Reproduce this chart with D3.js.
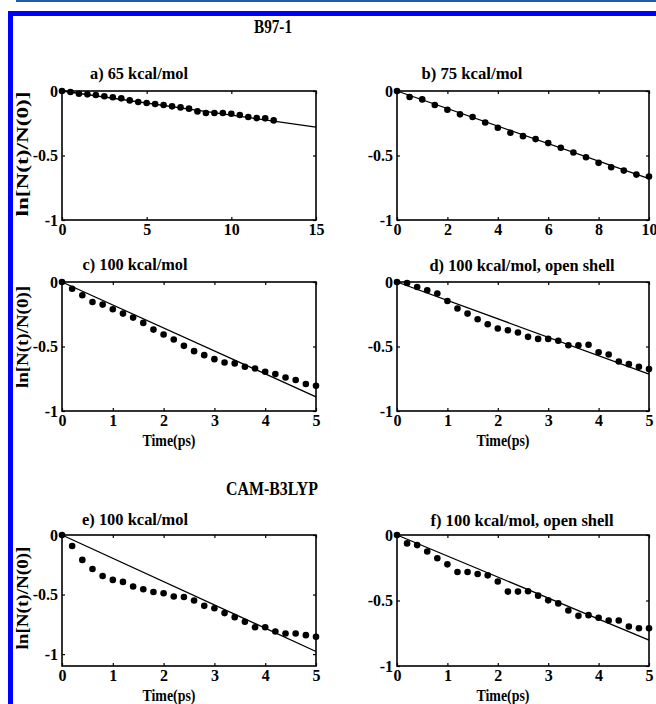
<!DOCTYPE html>
<html>
<head>
<meta charset="utf-8">
<script src="https://cdn.jsdelivr.net/npm/d3@7/dist/d3.min.js"></script>
<style>
body { margin: 0; background: #fff; }
text { font-family: "Liberation Serif", "Times New Roman", serif; font-weight: bold; fill: #000; }
</style>
</head>
<body>
<svg width="656" height="704"></svg>
<script>
// ---- data ----
var tA = [0,0.5,1,1.5,2,2.5,3,3.5,4,4.5,5,5.5,6,6.5,7,7.5,8,8.5,9,9.5,10,10.5,11,11.5,12,12.5];
var yA = [0,-0.008,-0.021,-0.026,-0.031,-0.041,-0.049,-0.057,-0.073,-0.085,-0.093,-0.101,-0.109,
          -0.119,-0.127,-0.137,-0.158,-0.171,-0.171,-0.171,-0.176,-0.186,-0.202,-0.210,-0.212,-0.228];
var fitA = [[0,0],[15,-0.28]];

var tB = [0,0.5,1,1.5,2,2.5,3,3.5,4,4.5,5,5.5,6,6.5,7,7.5,8,8.5,9,9.5,10];
var yB = [0,-0.047,-0.065,-0.109,-0.145,-0.181,-0.202,-0.244,-0.285,-0.324,-0.350,-0.373,-0.404,
          -0.440,-0.477,-0.513,-0.557,-0.591,-0.617,-0.648,-0.663];
var fitB = [[0,0],[10,-0.68]];

// panels c-f share the same time grid
var tC = [0,0.2,0.4,0.6,0.8,1,1.2,1.4,1.6,1.8,2,2.2,2.4,2.6,2.8,3,3.2,3.4,3.6,3.8,4,4.2,4.4,4.6,4.8,5];
var yC = [0,-0.052,-0.103,-0.155,-0.175,-0.211,-0.245,-0.276,-0.317,-0.369,-0.407,-0.446,-0.495,
          -0.536,-0.567,-0.598,-0.624,-0.631,-0.657,-0.670,-0.696,-0.714,-0.740,-0.760,-0.791,-0.804];
var fitC = [[0,0],[5,-0.89]];

var yD = [0,-0.008,-0.039,-0.064,-0.090,-0.147,-0.206,-0.245,-0.289,-0.327,-0.361,-0.374,-0.392,
          -0.425,-0.441,-0.441,-0.456,-0.490,-0.490,-0.487,-0.544,-0.562,-0.616,-0.637,-0.657,-0.675];
var fitD = [[0,0],[5,-0.714]];

var yE = [0,-0.092,-0.209,-0.285,-0.344,-0.377,-0.394,-0.433,-0.455,-0.478,-0.489,-0.517,-0.520,
          -0.550,-0.595,-0.615,-0.656,-0.690,-0.729,-0.774,-0.774,-0.810,-0.827,-0.827,-0.841,-0.855];
var fitE = [[0,0],[5,-0.978]];

var yF = [0,-0.064,-0.077,-0.126,-0.177,-0.224,-0.283,-0.283,-0.298,-0.308,-0.355,-0.432,-0.432,
          -0.429,-0.463,-0.499,-0.522,-0.576,-0.617,-0.612,-0.632,-0.653,-0.653,-0.699,-0.712,-0.712];
var fitF = [[0,0],[5,-0.802]];

var ticksA = [0,5,10,15];
var ticksB = [0,2,4,6,8,10];
var ticksT = [0,1,2,3,4,5];
var ticksY = [0,-0.5,-1];
var titles = ["a) 65 kcal/mol","b) 75 kcal/mol","c) 100 kcal/mol","d) 100 kcal/mol, open shell",
              "e) 100 kcal/mol","f) 100 kcal/mol, open shell"];

// ---- layout ----
var svg = d3.select("svg");
var cols = [[62,316],[397,649]];
var rows = [[91,220],[282,411],[535,666]];
var serif = '"Liberation Serif", "Times New Roman", serif';

// page decoration
svg.append("rect").attr("x",16).attr("y",0).attr("width",640).attr("height",2).attr("fill","#1f5fa6");
svg.append("rect").attr("x",8).attr("y",11).attr("width",648).attr("height",5).attr("fill","#0000ff");
svg.append("rect").attr("x",8).attr("y",11).attr("width",5).attr("height",693).attr("fill","#0000ff");

svg.append("text").attr("x",273).attr("y",33).attr("text-anchor","middle")
    .style("font-size","18px").attr("textLength",38).attr("lengthAdjust","spacingAndGlyphs").text("B97-1");
svg.append("text").attr("x",272).attr("y",495).attr("text-anchor","middle")
    .style("font-size","18px").attr("textLength",92).attr("lengthAdjust","spacingAndGlyphs").text("CAM-B3LYP");

var panels = [
  {t:tA, y:yA, fit:fitA, xmax:15, xt:ticksA, ymin:-1,   c:0, r:0, tx:139, ty:79,  tw:98},
  {t:tB, y:yB, fit:fitB, xmax:10, xt:ticksB, ymin:-1,   c:1, r:0, tx:472, ty:79,  tw:101},
  {t:tC, y:yC, fit:fitC, xmax:5,  xt:ticksT, ymin:-1,   c:0, r:1, tx:135, ty:270, tw:105, xl:true},
  {t:tC, y:yD, fit:fitD, xmax:5,  xt:ticksT, ymin:-1,   c:1, r:1, tx:522, ty:271, tw:185, xl:true},
  {t:tC, y:yE, fit:fitE, xmax:5,  xt:ticksT, ymin:-1.1, c:0, r:2, tx:135, ty:525, tw:106, xl:true},
  {t:tC, y:yF, fit:fitF, xmax:5,  xt:ticksT, ymin:-1,   c:1, r:2, tx:522, ty:526, tw:183, xl:true}
];
var ylab = [[154,125],[337,102],[598,103]];

panels.forEach(function(p, i) {
    var x0 = cols[p.c][0], x1 = cols[p.c][1], y0 = rows[p.r][0], y1 = rows[p.r][1];
    var x = d3.scaleLinear().domain([0, p.xmax]).range([x0, x1]);
    var y = d3.scaleLinear().domain([p.ymin, 0]).range([y1, y0]);
    var g = svg.append("g");

    g.append("text").attr("x",p.tx).attr("y",p.ty).attr("text-anchor","middle")
        .style("font-size","16px").attr("textLength",p.tw).attr("lengthAdjust","spacingAndGlyphs")
        .text(titles[i]);

    var fmt = function(d) { return String(d); };
    var ax = [
      g.append("g").attr("transform","translate(0,"+y1+")")
        .call(d3.axisBottom(x).tickValues(p.xt).tickSize(-3).tickPadding(4).tickFormat(fmt)),
      g.append("g").attr("transform","translate(0,"+y0+")")
        .call(d3.axisTop(x).tickValues(p.xt).tickSize(-3).tickFormat("")),
      g.append("g").attr("transform","translate("+x0+",0)")
        .call(d3.axisLeft(y).tickValues(ticksY).tickSize(-3).tickPadding(4).tickFormat(fmt)),
      g.append("g").attr("transform","translate("+x1+",0)")
        .call(d3.axisRight(y).tickValues(ticksY).tickSize(-3).tickFormat(""))
    ];
    ax.forEach(function(a) {
        a.select(".domain").remove();
        a.attr("font-family", serif).attr("font-size", 16).attr("font-weight", "bold");
        a.selectAll("line").attr("stroke","#000").attr("stroke-width",1.2);
        a.selectAll("text").style("font-family", serif).style("font-size","16px")
            .style("font-weight","bold").attr("fill","#000");
    });

    g.append("rect").attr("x",x0).attr("y",y0).attr("width",x1-x0).attr("height",y1-y0)
        .attr("fill","none").attr("stroke","#000").attr("stroke-width",1.6);

    g.append("path").datum(p.fit)
        .attr("d", d3.line().x(d => x(d[0])).y(d => y(d[1])))
        .attr("fill","none").attr("stroke","#000").attr("stroke-width",1.3);

    g.selectAll("circle").data(p.t.map((t, k) => [t, p.y[k]])).enter().append("circle")
        .attr("cx", d => x(d[0])).attr("cy", d => y(d[1])).attr("r",3.3).attr("fill","#000");

    if (p.c == 0) {
        var yl = ylab[p.r];
        g.append("text").attr("transform","translate(28,"+yl[0]+") rotate(-90)")
            .attr("text-anchor","middle").style("font-size","16px")
            .attr("textLength",yl[1]).attr("lengthAdjust","spacingAndGlyphs")
            .text("ln[N(t)/N(0)]");
    }
    if (p.xl) {
        g.append("text").attr("x",(x0+x1)/2 - 20).attr("y",y1+35).attr("text-anchor","middle")
            .style("font-size","16px").attr("textLength",53).attr("lengthAdjust","spacingAndGlyphs")
            .text("Time(ps)");
    }
});
</script>
</body>
</html>
